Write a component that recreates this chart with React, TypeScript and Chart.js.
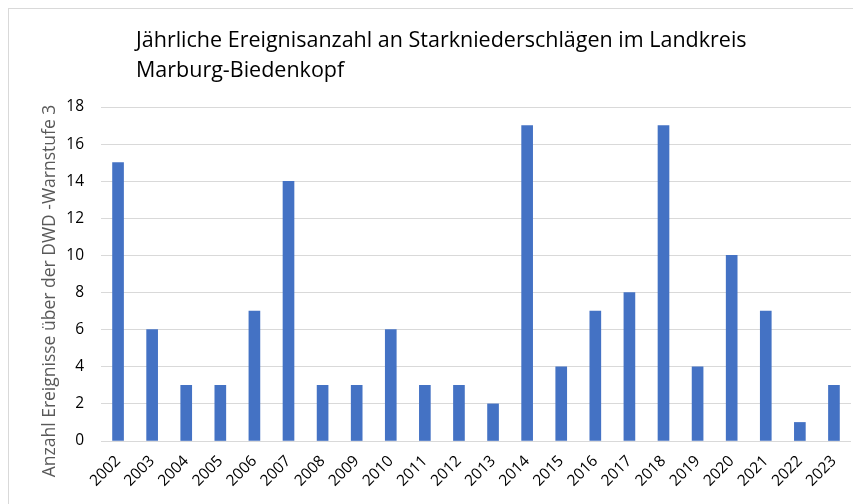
import React, { useEffect, useRef } from "react";
import { Chart, registerables } from "chart.js";

Chart.register(...registerables);

const categories = ["2002","2003","2004","2005","2006","2007","2008","2009","2010","2011","2012","2013","2014","2015","2016","2017","2018","2019","2020","2021","2022","2023"];
const events = [15, 6, 3, 3, 7, 14, 3, 3, 6, 3, 3, 2, 17, 4, 7, 8, 17, 4, 10, 7, 1, 3];
const titleLines = ["Jährliche Ereignisanzahl an Starkniederschlägen im Landkreis", "Marburg-Biedenkopf"];
const yAxisTitle = "Anzahl Ereignisse über der DWD -Warnstufe 3";

const FONT = "'Open Sans', 'Liberation Sans', sans-serif";

export default function App() {
  const ref = useRef<HTMLCanvasElement>(null);
  useEffect(() => {
    if (!ref.current) return;
    const textPlugin = {
      id: "textPlugin",
      afterDraw(chart: any) {
        const ctx = chart.ctx;
        ctx.save();
        ctx.fillStyle = "#000000";
        ctx.font = `21.5px ${FONT}`;
        ctx.textBaseline = "alphabetic";
        ctx.textAlign = "left";
        ctx.fillText(titleLines[0], 127, 38);
        ctx.fillText(titleLines[1], 127, 68);
        ctx.translate(41, 282);
        ctx.rotate(-Math.PI / 2);
        ctx.fillStyle = "#595959";
        ctx.font = `17.5px ${FONT}`;
        ctx.textAlign = "center";
        ctx.textBaseline = "middle";
        ctx.fillText(yAxisTitle, 0, 0);
        ctx.restore();
      },
    };
    const chart = new Chart(ref.current, {
      type: "bar",
      data: {
        labels: categories,
        datasets: [
          {
            data: events,
            backgroundColor: "#4472C4",
            borderWidth: 0,
            barThickness: 11,
          },
        ],
      },
      options: {
        animation: false,
        responsive: true,
        maintainAspectRatio: false,
        layout: { padding: { left: 0, right: 10, top: 98, bottom: 0 } },
        plugins: { legend: { display: false }, title: { display: false }, tooltip: { enabled: false } },
        scales: {
          x: {
            grid: { display: false },
            border: { display: false },
            ticks: {
              color: "#000000",
              font: { family: FONT, size: 15.5 },
              maxRotation: 45,
              minRotation: 45,
              autoSkip: false,
              padding: 3,
            },
            afterFit(scale: any) {
              scale.height = 63;
            },
          },
          y: {
            min: 0,
            max: 18,
            ticks: {
              stepSize: 2,
              color: "#000000",
              font: { family: FONT, size: 15.5 },
              padding: 17,
            },
            grid: { color: "#d9d9d9", lineWidth: 1, drawTicks: false },
            border: { display: false },
            afterFit(scale: any) {
              scale.width = 92;
            },
          },
        },
      },
      plugins: [textPlugin],
    });
    return () => chart.destroy();
  }, []);
  return (
    <div
      style={{
        width: 853,
        height: 496,
        boxSizing: "border-box",
        borderTop: "1px solid #d9d9d9",
        borderLeft: "1px solid #d9d9d9",
        background: "#ffffff",
      }}
    >
      <div style={{ position: "relative", width: 852, height: 495 }}>
        <canvas ref={ref} />
      </div>
    </div>
  );
}
